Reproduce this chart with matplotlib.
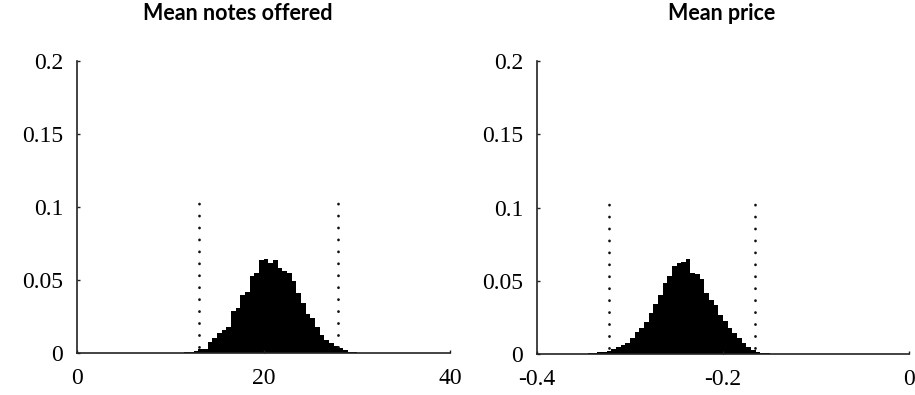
import matplotlib

matplotlib.use("Agg")
import matplotlib.pyplot as plt
import numpy as np

# Left panel: mean notes offered (bin left edges, width 0.5)
notes_edges = np.arange(11.5, 30.5, 0.5)
notes_freq = [
    0.0005, 0.0008, 0.0015, 0.003, 0.0025, 0.0078, 0.010, 0.0135, 0.016, 0.018,
    0.029, 0.031, 0.040, 0.042, 0.053, 0.055, 0.064, 0.0646, 0.0616, 0.064,
    0.058, 0.056, 0.0548, 0.049, 0.041, 0.034, 0.027, 0.024, 0.018, 0.0124,
    0.009, 0.0066, 0.0045, 0.0032, 0.002, 0.001, 0.0005, 0.0002,
]
notes_bounds = [13.1, 28.0]

# Right panel: mean price (bin left edges, width 0.005)
price_edges = np.round(np.arange(-0.345, -0.1449, 0.005), 3)
price_freq = [
    0.0004, 0.0008, 0.0012, 0.0015, 0.002, 0.0032, 0.005, 0.006, 0.0073, 0.0108,
    0.0153, 0.0176, 0.022, 0.028, 0.034, 0.040, 0.0486, 0.053, 0.060, 0.062,
    0.0628, 0.0646, 0.0554, 0.0543, 0.0509, 0.0417, 0.037, 0.0337, 0.0268, 0.0222,
    0.0176, 0.0142, 0.0108, 0.0073, 0.005, 0.0027, 0.0015, 0.0008, 0.0004, 0.0002,
    0.0001,
]
price_bounds = [-0.323, -0.166]

y_ticks = [0, 0.05, 0.1, 0.15, 0.2]
y_labels = ["0", "0.05", "0.1", "0.15", "0.2"]

panels = [
    {
        "title": "Mean notes offered",
        "edges": notes_edges,
        "freq": notes_freq,
        "width": 0.5,
        "bounds": notes_bounds,
        "xlim": (0, 40),
        "xticks": [0, 20, 40],
        "xlabels": ["0", "20", "40"],
        "rect": [0.0842, 0.1063, 0.4077, 0.7392],
        "title_x": 238 / 915,
    },
    {
        "title": "Mean price",
        "edges": price_edges,
        "freq": price_freq,
        "width": 0.005,
        "bounds": price_bounds,
        "xlim": (-0.4, 0),
        "xticks": [-0.4, -0.2, 0],
        "xlabels": ["-0.4", "-0.2", "0"],
        "rect": [0.5869, 0.1038, 0.4066, 0.7417],
        "title_x": 722 / 915,
    },
]

fig = plt.figure(figsize=(9.15, 3.95), dpi=100)

for p in panels:
    ax = fig.add_axes(p["rect"])
    n = min(len(p["edges"]), len(p["freq"]))
    ax.bar(p["edges"][:n], p["freq"][:n], width=p["width"], align="edge",
           color="black", linewidth=0)
    for b in p["bounds"]:
        ax.plot([b, b], [0.004, 0.105], color="#111111", lw=2.0,
                linestyle=(0, (0.05, 4.25)), dash_capstyle="round")
    ax.set_xlim(*p["xlim"])
    ax.set_ylim(0, 0.2)
    ax.set_xticks(p["xticks"], p["xlabels"])
    ax.set_yticks(y_ticks, y_labels)
    for side in ["top", "right"]:
        ax.spines[side].set_visible(False)
    for side in ["left", "bottom"]:
        ax.spines[side].set_linewidth(1.2)
        ax.spines[side].set_color("#222222")
    ax.tick_params(direction="in", length=2.5, width=1, color="#222222",
                   labelsize=17, labelfontfamily="Liberation Serif")
    ax.tick_params(axis="y", pad=10)
    ax.tick_params(axis="x", pad=11)
    fig.text(p["title_x"], 1 - 14 / 395, p["title"], ha="center", va="center",
             fontsize=15.5, fontweight="bold", family="Lato")

fig.savefig("out.png", dpi=100)
